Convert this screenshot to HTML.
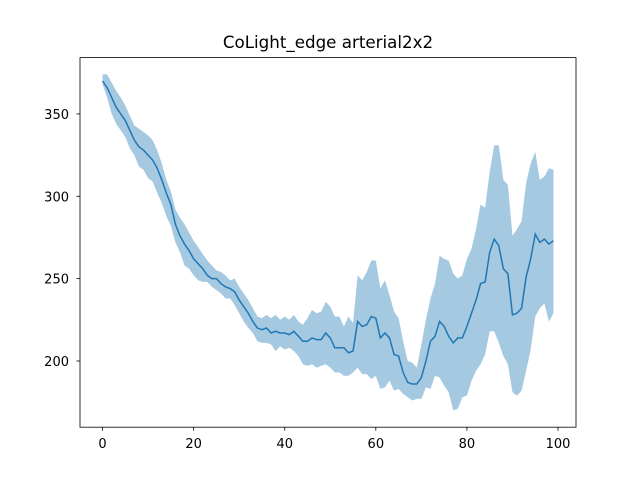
<!DOCTYPE html>
<html><head><meta charset="utf-8"><style>
html,body{margin:0;padding:0;background:#fff;}
svg{display:block;font-family:"DejaVu Sans","Liberation Sans",sans-serif;}
</style></head><body>
<svg id="chart" width="640" height="480" viewBox="0 0 640 480" xmlns="http://www.w3.org/2000/svg">
<rect width="640" height="480" fill="#fff"/>
<text x="328" y="48" text-anchor="middle" font-size="16.7" fill="#000">CoLight_edge arterial2x2</text>
<g id="plot"></g>
<rect x="80" y="57.6" width="496" height="369.6" fill="none" stroke="#000" stroke-width="0.8"/>
<g id="ticks"></g>
</svg>
<script>
const meanVals=[370,366,360,354,350,346,340,334,330,328,325,322,317,310,302,295,283,276,271,267,262,259,256,252,250,250,247,245,244,242,237,233,229,224,220,219,220,217,218,217,217,216,218,215,212,212,214,213,213,217,214,208,208,208,205,206,224,221,222,227,226,214,217,214,204,203,193,187,186,186,190,200,212,215,224,221,215,211,214,214,221,229,237,247,248,266,274,270,256,253,228,229,232,251,262,277,272,274,271,273];
const upperVals=[374,374,369,364,360,355,349,343,341,339,337,334,328,320,310,303,292,287,283,278,273,269,265,261,258,255,254,252,249,250,245,241,237,232,227,226,228,226,228,225,227,225,228,224,222,226,231,229,230,236,233,227,227,221,227,223,252,249,254,261,261,244,249,240,230,226,212,200,199,196,210,225,238,247,264,262,261,253,250,252,262,268,280,295,293,315,331,331,310,307,276,280,285,308,320,327,310,312,317,316];
const lowerVals=[368,360,350,344,340,336,329,325,318,316,311,309,302,296,288,282,272,266,258,256,252,249,248,248,245,243,241,238,238,234,229,224,220,217,212,211,211,210,206,209,207,208,206,203,198,197,198,196,197,198,196,193,193,191,191,193,196,192,192,189,191,183,184,188,182,183,180,178,176,177,177,184,183,191,190,185,181,170,171,178,179,188,194,198,204,218,218,211,203,198,181,179,182,194,207,227,232,235,224,229];
const xTicks=[0,20,40,60,80,100];
const yTicks=[200,250,300,350];
const NS="http://www.w3.org/2000/svg";
const X0=80,X1=576,Y0=57.6,Y1=427.2;
const xMin=-4.95,xMax=103.95;
const allV=upperVals.concat(lowerVals);
const vMin=Math.min(...allV),vMax=Math.max(...allV),pad=(vMax-vMin)*0.05;
const yMin=vMin-pad,yMax=vMax+pad;
const sx=v=>X0+(v-xMin)/(xMax-xMin)*(X1-X0);
const sy=v=>Y1-(v-yMin)/(yMax-yMin)*(Y1-Y0);
const plot=document.getElementById('plot'),ticks=document.getElementById('ticks');
let d='';
upperVals.forEach((v,i)=>{d+=(i?'L':'M')+sx(i).toFixed(2)+','+sy(v).toFixed(2);});
for(let i=lowerVals.length-1;i>=0;i--)d+='L'+sx(i).toFixed(2)+','+sy(lowerVals[i]).toFixed(2);
d+='Z';
const band=document.createElementNS(NS,'path');
band.setAttribute('d',d);band.setAttribute('fill','#1f77b4');band.setAttribute('fill-opacity','0.4');


plot.appendChild(band);
let ld='';
meanVals.forEach((v,i)=>{ld+=(i?'L':'M')+sx(i).toFixed(2)+','+sy(v).toFixed(2);});
const line=document.createElementNS(NS,'path');
line.setAttribute('d',ld);line.setAttribute('fill','none');line.setAttribute('stroke','#1f77b4');line.setAttribute('stroke-width','1.5');


plot.appendChild(line);
xTicks.forEach(t=>{
 const x=sx(t);
 const l=document.createElementNS(NS,'line');
 l.setAttribute('x1',x);l.setAttribute('x2',x);l.setAttribute('y1',Y1);l.setAttribute('y2',Y1+3.5);l.setAttribute('stroke','#000');l.setAttribute('stroke-width','0.8');
 
 
 ticks.appendChild(l);
 const tx=document.createElementNS(NS,'text');
 tx.setAttribute('x',x);tx.setAttribute('y',Y1+21);tx.setAttribute('text-anchor','middle');tx.setAttribute('font-size','13');
 tx.textContent=t;
 
 
 ticks.appendChild(tx);
});
yTicks.forEach(t=>{
 const y=sy(t);
 const l=document.createElementNS(NS,'line');
 l.setAttribute('x1',X0-3.5);l.setAttribute('x2',X0);l.setAttribute('y1',y);l.setAttribute('y2',y);l.setAttribute('stroke','#000');l.setAttribute('stroke-width','0.8');
 
 
 ticks.appendChild(l);
 const tx=document.createElementNS(NS,'text');
 tx.setAttribute('x',X0-11);tx.setAttribute('y',y+5);tx.setAttribute('text-anchor','end');tx.setAttribute('font-size','13');
 tx.textContent=t;
 
 
 ticks.appendChild(tx);
});
</script>
</body></html>
